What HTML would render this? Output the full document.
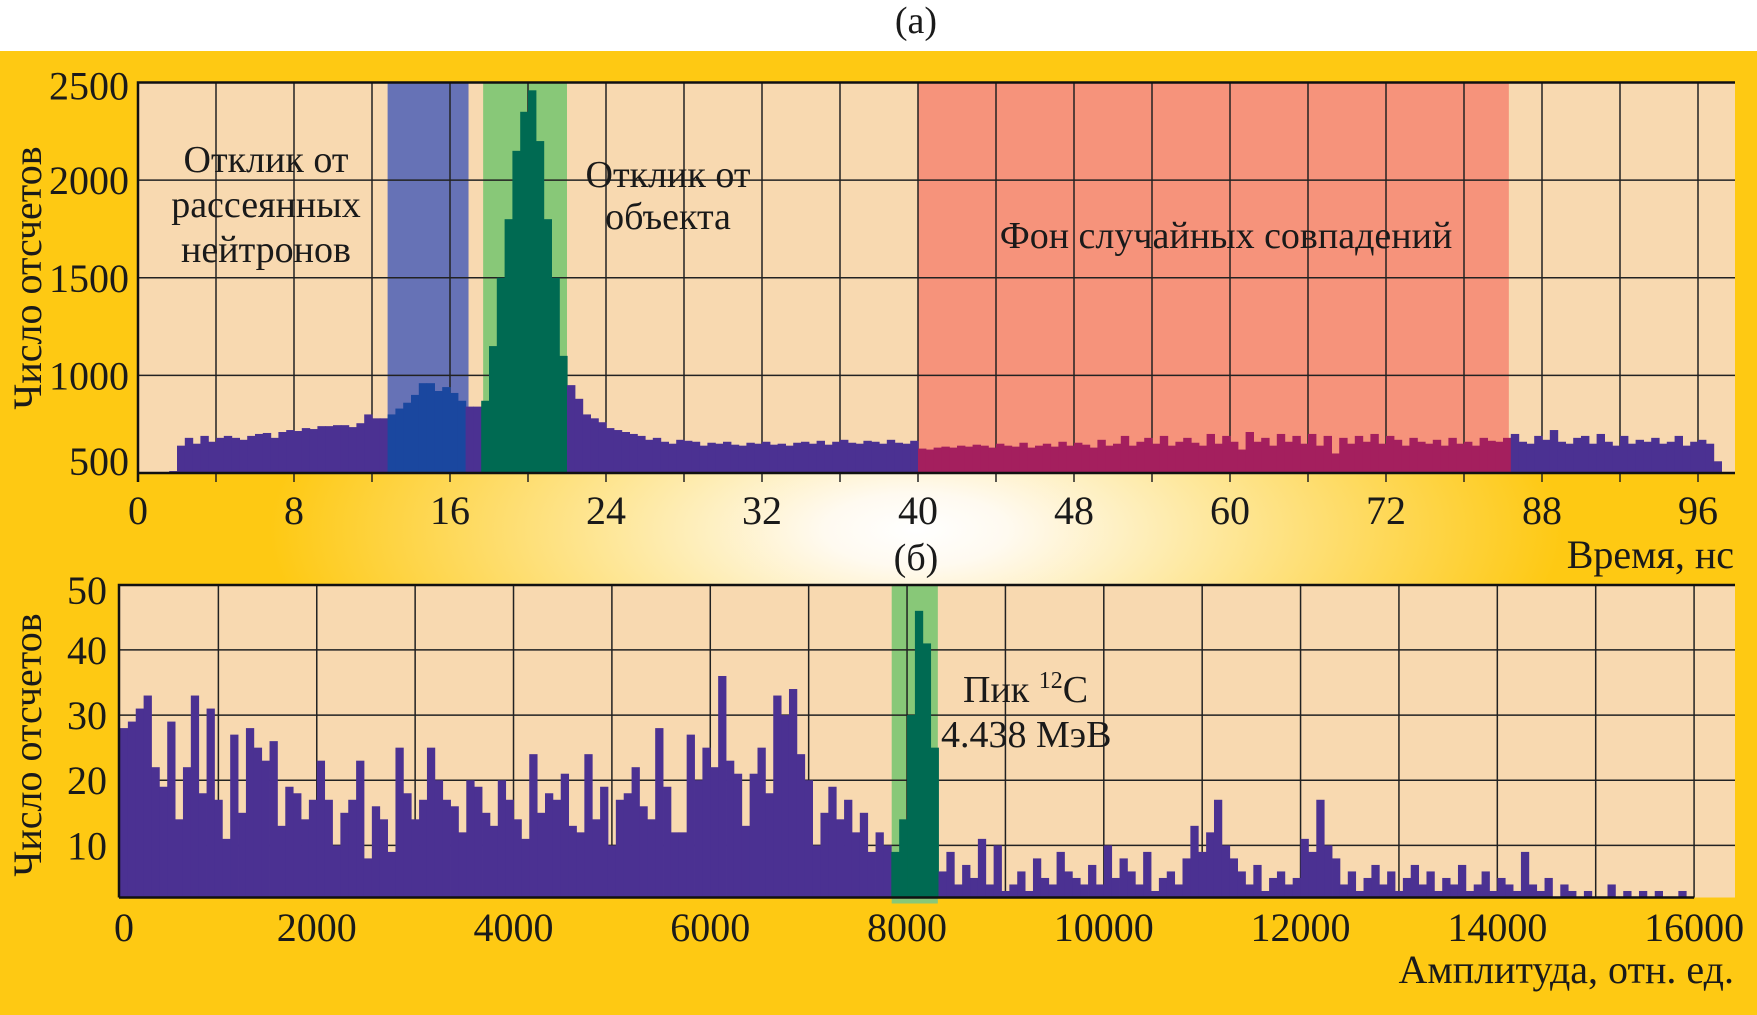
<!DOCTYPE html>
<html><head><meta charset="utf-8"><style>
html,body{margin:0;padding:0;background:#fff;}
svg{display:block;font-family:"Liberation Serif","Noto Serif CJK SC",serif;}
</style></head><body>
<svg id="fig" width="1757" height="1015" viewBox="0 0 1757 1015" xmlns="http://www.w3.org/2000/svg">
<defs>
<radialGradient id="glow" cx="916" cy="530" r="760" gradientUnits="userSpaceOnUse" gradientTransform="translate(916 530) scale(1 0.4) translate(-916 -530)">
<stop offset="0" stop-color="#ffffff"/>
<stop offset="0.12" stop-color="#fffaf0"/>
<stop offset="0.4" stop-color="#fee79a"/>
<stop offset="0.85" stop-color="#fec913"/>
<stop offset="1" stop-color="#fec913"/>
</radialGradient>
</defs>
<rect x="0" y="0" width="1757" height="51" fill="#fff"/>
<rect x="0" y="51" width="1757" height="964" fill="#fec913"/>
<rect x="0" y="51" width="1757" height="964" fill="url(#glow)"/>
<text x="916" y="33" font-size="38" text-anchor="middle" fill="#1a1a1a">(а)</text>
<text x="916" y="570" font-size="38" text-anchor="middle" fill="#1a1a1a">(б)</text>
<g id="top"></g>
<g id="bot"></g>
</svg>
<script>
// ---------- top chart data ----------
const topTickLabels = [0, 8, 16, 24, 32, 40, 48, 60, 72, 88, 96];
const topYTicks = [500, 1000, 1500, 2000, 2500];
const topBinStart = 1.6;
const topBinWidth = 0.4;
const topCounts = [
510,640,680,650,690,660,680,690,680,670,
690,700,705,680,710,720,715,730,725,740,
740,745,745,735,755,800,780,780,800,830,
860,900,960,960,920,940,910,870,840,840,
870,1150,1500,1800,2150,2350,2460,2200,1800,1500,
1100,950,880,800,780,760,730,720,710,700,
690,670,680,660,650,670,665,660,640,655,
650,660,645,640,655,650,660,645,650,640,
655,660,650,665,645,660,670,655,650,665,
660,650,670,655,650,665,625,620,630,635,
630,640,635,645,640,630,650,640,635,655,
630,640,650,635,660,640,655,645,630,670,
640,650,690,640,660,680,650,690,640,660,
680,655,640,700,650,690,660,620,710,660,
680,640,700,660,690,650,700,640,690,600,
680,650,690,660,700,650,690,670,640,680,
660,650,670,640,680,650,660,640,680,665,
660,680,700,660,650,690,670,720,660,650,
680,690,650,700,660,640,690,650,670,660,
680,650,660,690,640,660,670,650,560];
const topBlueBand = [12.8, 16.95];
const topGreenBand = [17.7, 22.0];
const topRedBand = [40, 70.3];

// ---------- bottom chart data ----------
const botTickLabels = [0, 2000, 4000, 6000, 8000, 10000, 12000, 14000, 16000];
const botYTicks = [10, 20, 30, 40, 50];
const botBinWidth = 80;
const botCounts = [
28,29,31,33,22,19,29,14,22,33,
18,31,17,11,27,15,28,25,23,26,
13,19,18,14,17,23,17,10,15,17,
23,8,16,14,9,25,18,14,17,25,
20,17,16,12,20,19,15,13,20,17,
14,11,24,15,18,17,21,13,12,24,
14,19,10,17,18,22,16,14,28,19,
12,12,27,20,25,22,36,23,21,13,
21,25,18,33,30,34,24,20,10,15,
19,14,17,12,15,9,12,10,9,
14,30,46,41,25,
6,9,4,7,5,11,4,10,3,
4,6,3,8,5,4,9,6,5,4,
7,4,10,5,8,6,4,9,3,5,
6,4,8,13,9,12,17,10,8,6,
4,7,3,5,6,4,5,
11,9,17,10,8,
4,6,3,5,7,4,6,3,5,7,
4,6,3,5,4,7,3,4,6,3,
5,4,3,9,4,3,5,2,4,3,
2,3,2,1,4,2,3,1,3,2,
3,2,1,3,2];
const botGreenBand = [7844, 8313];

const NS = 'http://www.w3.org/2000/svg';
function mk(parent, tag, attrs) {
  const el = document.createElementNS(NS, tag);
  for (const k in attrs) el.setAttribute(k, attrs[k]);
  parent.appendChild(el);
  return el;
}

// ---------- top chart ----------
(function () {
  const g = document.getElementById('top');
  const L = 138, T = 82.5, B = 473, R = 1735;
  const xS = u => L + u * 19.5;
  const yS = v => B - (v - 500) * (B - T) / 2000;
  const bg = mk(g, 'rect', {x: L, y: T, width: R - L, height: B - T, fill: '#f8d9b0'});
  
  
  const bands = [[topBlueBand, '#6672b6', 'scattered-neutrons-band'], [topGreenBand, '#88c878', 'object-response-band'], [topRedBand, '#f6937b', 'random-background-band']];
  bands.forEach(b => {
    const r = mk(g, 'rect', {x: xS(b[0][0]), y: T, width: xS(b[0][1]) - xS(b[0][0]), height: B - T, fill: b[1]});
    
    
  });
  // grid
  for (let u = 4; u * 19.5 + L < R; u += 4) {
    const l = mk(g, 'line', {x1: xS(u), x2: xS(u), y1: T, y2: B + 9, stroke: '#222', 'stroke-width': 1.5});
    
    
  }
  topYTicks.forEach(v => {
    const l = mk(g, 'line', {x1: L, x2: R, y1: yS(v), y2: yS(v), stroke: '#222', 'stroke-width': 1.5});
    
    
  });
  // bars
  topCounts.forEach((c, i) => {
    const u0 = topBinStart + i * topBinWidth, uc = u0 + topBinWidth / 2;
    let col = '#4b3192';
    if (uc >= topBlueBand[0] && uc <= topBlueBand[1]) col = '#1a479f';
    else if (uc >= topGreenBand[0] && uc <= topGreenBand[1]) col = '#006a52';
    else if (uc >= topRedBand[0] && uc <= topRedBand[1]) col = '#a41f5e';
    const x0 = xS(u0), x1 = xS(u0 + topBinWidth);
    const r = mk(g, 'rect', {x: x0, y: yS(c), width: x1 - x0 + 0.6, height: B - yS(c), fill: col});
    
    
  });
  // axes borders
  const ax = mk(g, 'path', {d: `M${L} ${B + 9} L${L} ${T} L${R} ${T} M${L} ${B} L${R} ${B}`, stroke: '#111', 'stroke-width': 2.5, fill: 'none'});
  
  
  // tick labels
  topTickLabels.forEach((lab, i) => {
    const t = mk(g, 'text', {x: xS(i * 8), y: 524, 'font-size': 40, 'text-anchor': 'middle', fill: '#1a1a1a'});
    t.textContent = lab;
    
    
  });
  topYTicks.forEach(v => {
    let y = yS(v) + 14;
    if (v === 500) y -= 12;
    if (v === 2500) y += 3;
    const t = mk(g, 'text', {x: 129, y: y, 'font-size': 40, 'text-anchor': 'end', fill: '#1a1a1a'});
    t.textContent = v;
    
    
  });
  const yt = mk(g, 'text', {x: 0, y: 0, 'font-size': 40, 'text-anchor': 'middle', fill: '#1a1a1a', transform: 'translate(41 278) rotate(-90)'});
  yt.textContent = 'Число отсчетов';
  
  
  const xt = mk(g, 'text', {x: 1734, y: 568, 'font-size': 40, 'text-anchor': 'end', fill: '#1a1a1a'});
  xt.textContent = 'Время, нс';
  
  
  const notes = [
    ['Отклик от', 266, 172, 'scattered-neutrons-label'], ['рассеянных', 266, 217, 'scattered-neutrons-label'], ['нейтронов', 266, 262, 'scattered-neutrons-label'],
    ['Отклик от', 668, 187, 'object-response-label'], ['объекта', 668, 229, 'object-response-label'],
    ['Фон случайных совпадений', 1226, 248, 'random-background-label']];
  notes.forEach(n => {
    const t = mk(g, 'text', {x: n[1], y: n[2], 'font-size': 38, 'text-anchor': 'middle', fill: '#1a1a1a'});
    t.textContent = n[0];
    
    
  });
})();

// ---------- bottom chart ----------
(function () {
  const g = document.getElementById('bot');
  const L = 119, T = 585, B = 897.5, R = 1735;
  const xS = a => 120 + a * 0.09838;
  const yS = v => B - (v - 2) * 6.515;
  const bg = mk(g, 'rect', {x: L, y: T, width: R - L, height: B - T, fill: '#f8d9b0'});
  
  
  const band = mk(g, 'rect', {x: xS(botGreenBand[0]), y: T, width: xS(botGreenBand[1]) - xS(botGreenBand[0]), height: B - T + 6, fill: '#88c878'});
  
  
  for (let a = 1000; xS(a) < R; a += 1000) {
    const l = mk(g, 'line', {x1: xS(a), x2: xS(a), y1: T, y2: B, stroke: '#222', 'stroke-width': 1.5});
    
    
  }
  botYTicks.forEach(v => {
    const l = mk(g, 'line', {x1: L, x2: R, y1: yS(v), y2: yS(v), stroke: '#222', 'stroke-width': 1.5});
    
    
  });
  botCounts.forEach((c, i) => {
    const a0 = i * botBinWidth, ac = a0 + botBinWidth / 2;
    let col = '#4b3192';
    if (ac >= botGreenBand[0] && ac <= botGreenBand[1]) col = '#006a52';
    const x0 = xS(a0), x1 = xS(a0 + botBinWidth);
    const r = mk(g, 'rect', {x: x0, y: yS(c), width: x1 - x0 + 0.4, height: B - yS(c), fill: col});
    
    
  });
  const ax = mk(g, 'path', {d: `M${L} ${B} L${L} ${T} L${R} ${T} M${L} ${B} L${xS(16000)} ${B}`, stroke: '#111', 'stroke-width': 2.5, fill: 'none'});
  
  
  botTickLabels.forEach(v => {
    const t = mk(g, 'text', {x: xS(v) + (v === 0 ? 4 : 0), y: 941, 'font-size': 40, 'text-anchor': 'middle', fill: '#1a1a1a'});
    t.textContent = v;
    
    
  });
  botYTicks.forEach(v => {
    const t = mk(g, 'text', {x: 107, y: yS(v) + 14 + (v === 50 ? 5 : 0), 'font-size': 40, 'text-anchor': 'end', fill: '#1a1a1a'});
    t.textContent = v;
    
    
  });
  const yt = mk(g, 'text', {x: 0, y: 0, 'font-size': 40, 'text-anchor': 'middle', fill: '#1a1a1a', transform: 'translate(41 745) rotate(-90)'});
  yt.textContent = 'Число отсчетов';
  
  
  const xt = mk(g, 'text', {x: 1734, y: 983, 'font-size': 40, 'text-anchor': 'end', fill: '#1a1a1a'});
  xt.textContent = 'Амплитуда, отн. ед.';
  
  
  const p1 = mk(g, 'text', {x: 963, y: 702, 'font-size': 38, fill: '#1a1a1a'});
  
  
  p1.innerHTML = 'Пик <tspan font-size="24" dy="-14">12</tspan><tspan dy="14">C</tspan>';
  const p2 = mk(g, 'text', {x: 941, y: 747, 'font-size': 38, fill: '#1a1a1a'});
  p2.textContent = '4.438 МэВ';
  
  
})();
</script>
</body></html>
